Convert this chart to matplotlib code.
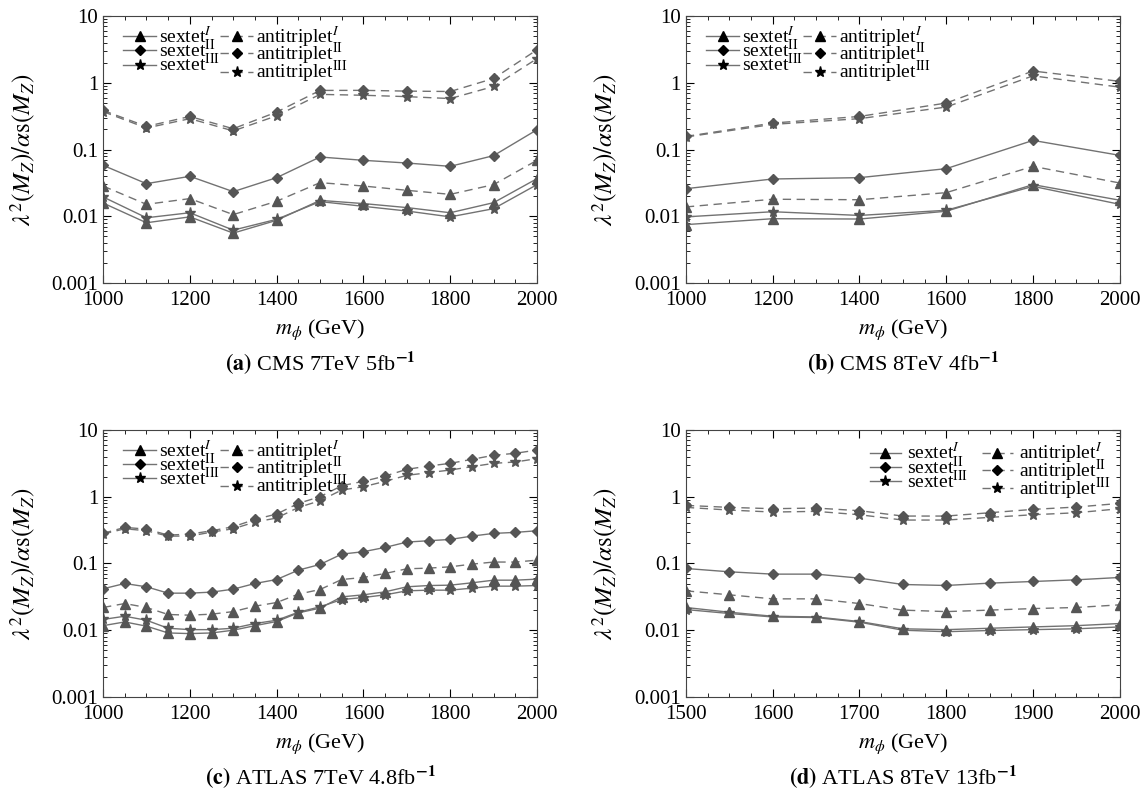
import numpy as np
import matplotlib
matplotlib.use('Agg')
import matplotlib.pyplot as plt
from matplotlib.lines import Line2D
from matplotlib.ticker import MultipleLocator, LogLocator, FixedLocator, NullFormatter

plt.rcParams['font.family'] = ['Liberation Serif', 'DejaVu Serif']
plt.rcParams['mathtext.fontset'] = 'stix'

# (a) CMS 7TeV 5fb-1
mass_a = [1000, 1100, 1200, 1300, 1400, 1500, 1600, 1700, 1800, 1900, 2000]
sext1_a = [0.0158, 0.0080, 0.0098, 0.0056, 0.0087, 0.0173, 0.0155, 0.0135, 0.0113, 0.0160, 0.0366]
sext2_a = [0.058, 0.0308, 0.0397, 0.0234, 0.0379, 0.0773, 0.0689, 0.0628, 0.056, 0.081, 0.198]
sext3_a = [0.0195, 0.0095, 0.0113, 0.0062, 0.0090, 0.0166, 0.0141, 0.0120, 0.0098, 0.0130, 0.0298]
anti1_a = [0.0284, 0.0151, 0.0184, 0.0106, 0.0168, 0.0319, 0.0284, 0.0245, 0.0213, 0.0298, 0.069]
anti2_a = [0.385, 0.222, 0.313, 0.205, 0.364, 0.768, 0.77, 0.75, 0.74, 1.16, 3.12]
anti3_a = [0.37, 0.21, 0.29, 0.19, 0.32, 0.67, 0.65, 0.62, 0.58, 0.88, 2.3]

# (b) CMS 8TeV 4fb-1
mass_b = [1000, 1200, 1400, 1600, 1800, 2000]
sext1_b = [0.0075, 0.0092, 0.0091, 0.0119, 0.0298, 0.0174]
sext2_b = [0.0259, 0.0362, 0.0379, 0.0517, 0.137, 0.0818]
sext3_b = [0.0098, 0.0117, 0.0103, 0.0123, 0.0281, 0.0151]
anti1_b = [0.0138, 0.018, 0.0177, 0.0226, 0.056, 0.0315]
anti2_b = [0.157, 0.249, 0.313, 0.497, 1.50, 1.05]
anti3_b = [0.154, 0.238, 0.29, 0.433, 1.27, 0.86]

# (c) ATLAS 7TeV 4.8fb-1
mass_c = [1000, 1050, 1100, 1150, 1200, 1250, 1300, 1350, 1400, 1450, 1500,
          1550, 1600, 1650, 1700, 1750, 1800, 1850, 1900, 1950, 2000]
sext1_c = [0.0117, 0.0133, 0.0115, 0.0091, 0.0089, 0.0091, 0.0100, 0.0117, 0.0135, 0.0182, 0.0214,
           0.0316, 0.0339, 0.0376, 0.0447, 0.0467, 0.0473, 0.0513, 0.0562, 0.0562, 0.0582]
sext2_c = [0.0417, 0.0501, 0.0447, 0.0359, 0.0359, 0.0372, 0.0412, 0.0501, 0.0575, 0.0794, 0.0966,
           0.138, 0.15, 0.174, 0.209, 0.219, 0.229, 0.257, 0.282, 0.292, 0.309]
sext3_c = [0.0145, 0.0162, 0.0141, 0.0107, 0.0102, 0.0102, 0.0107, 0.0126, 0.0141, 0.0186, 0.0224,
           0.0288, 0.0309, 0.0339, 0.0389, 0.0398, 0.0398, 0.0427, 0.0457, 0.0457, 0.0467]
anti1_c = [0.0219, 0.0251, 0.0219, 0.0172, 0.0168, 0.0174, 0.019, 0.0229, 0.026, 0.0347, 0.0407,
           0.0575, 0.0617, 0.0708, 0.0832, 0.0851, 0.0891, 0.0977, 0.105, 0.105, 0.112]
anti2_c = [0.282, 0.347, 0.327, 0.266, 0.275, 0.309, 0.355, 0.457, 0.55, 0.794, 1.0,
           1.46, 1.70, 2.04, 2.57, 2.88, 3.16, 3.63, 4.17, 4.47, 5.0]
anti3_c = [0.275, 0.331, 0.309, 0.257, 0.257, 0.295, 0.331, 0.417, 0.479, 0.69, 0.87,
           1.26, 1.41, 1.70, 2.09, 2.29, 2.51, 2.82, 3.16, 3.31, 3.72]

# (d) ATLAS 8TeV 13fb-1
mass_d = [1500, 1550, 1600, 1650, 1700, 1750, 1800, 1850, 1900, 1950, 2000]
sext1_d = [0.0219, 0.0186, 0.0162, 0.0158, 0.0135, 0.0105, 0.0102, 0.0107, 0.0112, 0.0117, 0.0126]
sext2_d = [0.0841, 0.075, 0.0692, 0.0692, 0.0603, 0.0484, 0.0468, 0.0507, 0.0537, 0.0569, 0.0617]
sext3_d = [0.0204, 0.0178, 0.0158, 0.0155, 0.0132, 0.0100, 0.0095, 0.0099, 0.0102, 0.0105, 0.0112]
anti1_d = [0.0389, 0.0339, 0.0295, 0.0295, 0.0251, 0.020, 0.019, 0.020, 0.0211, 0.0219, 0.024]
anti2_d = [0.741, 0.692, 0.661, 0.676, 0.617, 0.513, 0.513, 0.575, 0.646, 0.70, 0.794]
anti3_d = [0.692, 0.631, 0.589, 0.603, 0.537, 0.447, 0.447, 0.49, 0.537, 0.575, 0.661]

panels = [
    (mass_a, [sext1_a, sext2_a, sext3_a, anti1_a, anti2_a, anti3_a], r'$\mathbf{(a)}$ CMS 7TeV 5fb$^{\mathbf{-1}}$'),
    (mass_b, [sext1_b, sext2_b, sext3_b, anti1_b, anti2_b, anti3_b], r'$\mathbf{(b)}$ CMS 8TeV 4fb$^{\mathbf{-1}}$'),
    (mass_c, [sext1_c, sext2_c, sext3_c, anti1_c, anti2_c, anti3_c], r'$\mathbf{(c)}$ ATLAS 7TeV 4.8fb$^{\mathbf{-1}}$'),
    (mass_d, [sext1_d, sext2_d, sext3_d, anti1_d, anti2_d, anti3_d], r'$\mathbf{(d)}$ ATLAS 8TeV 13fb$^{\mathbf{-1}}$'),
]

labels = [r'sextet$^{I}$', r'sextet$^{\mathrm{II}}$', r'sextet$^{\mathrm{III}}$',
          r'antitriplet$^{I}$', r'antitriplet$^{\mathrm{II}}$', r'antitriplet$^{\mathrm{III}}$']
markers = ['^', 'D', '*', '^', 'D', '*']
msizes = [7, 5.5, 8, 7, 5.5, 8]
styles = ['-', '-', '-', (0, (6, 4)), (0, (6, 4)), (0, (6, 4))]
line_col = '#727272'
mark_col = '#555555'

fig = plt.figure(figsize=(11.45, 8.05), dpi=100)
rects = [(0.090, 0.6484, 0.379, 0.3317), (0.599, 0.6484, 0.379, 0.3317),
         (0.090, 0.1342, 0.379, 0.3317), (0.599, 0.1342, 0.379, 0.3317)]

for i, (mass, series, cap) in enumerate(panels):
    ax = fig.add_axes(rects[i])
    for s, mk, ms, ls in zip(series, markers, msizes, styles):
        ax.plot(mass, s, color=line_col, ls=ls, lw=1.0, marker=mk, ms=ms,
                mfc=mark_col, mec=mark_col)
    ax.set_yscale('log')
    ax.set_ylim(0.001, 10)
    ax.set_xlim(mass[0], mass[-1])
    ax.yaxis.set_major_locator(FixedLocator([0.001, 0.01, 0.1, 1, 10]))
    ax.set_yticklabels(['0.001', '0.01', '0.1', '1', '10'])
    ax.yaxis.set_minor_locator(LogLocator(base=10, subs=np.arange(2, 10), numticks=20))
    ax.yaxis.set_minor_formatter(NullFormatter())
    if i == 3:
        ax.xaxis.set_major_locator(MultipleLocator(100))
        ax.xaxis.set_minor_locator(MultipleLocator(25))
    else:
        ax.xaxis.set_major_locator(MultipleLocator(200))
        ax.xaxis.set_minor_locator(MultipleLocator(50))
    ax.tick_params(which='both', direction='in', top=True, right=True, labelsize=15)
    ax.tick_params(which='major', length=6)
    ax.tick_params(which='minor', length=3)
    ax.tick_params(axis='x', pad=6)
    for sp in ax.spines.values():
        sp.set_color('#444444')
    ax.set_xlabel(r'$m_\phi$ (GeV)', fontsize=16, labelpad=5)
    ax.set_ylabel(r'$\lambda^2(M_Z)/\alpha\mathrm{s}(M_Z)$', fontsize=18, labelpad=10)

    handles = [Line2D([], [], color=line_col, ls=ls, lw=1.0, marker=mk, ms=ms,
                      mfc='black', mec='black')
               for mk, ms, ls in zip(markers, msizes, styles)]
    if i == 3:
        ax.legend(handles, labels, loc='upper right', bbox_to_anchor=(1.0, 0.995), ncol=2,
                  frameon=False, fontsize=14, handlelength=1.6, handletextpad=0.3,
                  labelspacing=-0.4, columnspacing=0.7, borderpad=0.0)
    else:
        ax.legend(handles, labels, loc='upper left', bbox_to_anchor=(0.024, 1.005), ncol=2,
                  frameon=False, fontsize=14, handlelength=1.7, handletextpad=0.15,
                  labelspacing=-0.4, columnspacing=0.0, borderpad=0.0)

    cx = rects[i][0] + rects[i][2] / 2
    cy = rects[i][1] - 0.0995
    fig.text(cx, cy, cap, ha='center', va='center', fontsize=16)

fig.savefig('out.png', dpi=100)
